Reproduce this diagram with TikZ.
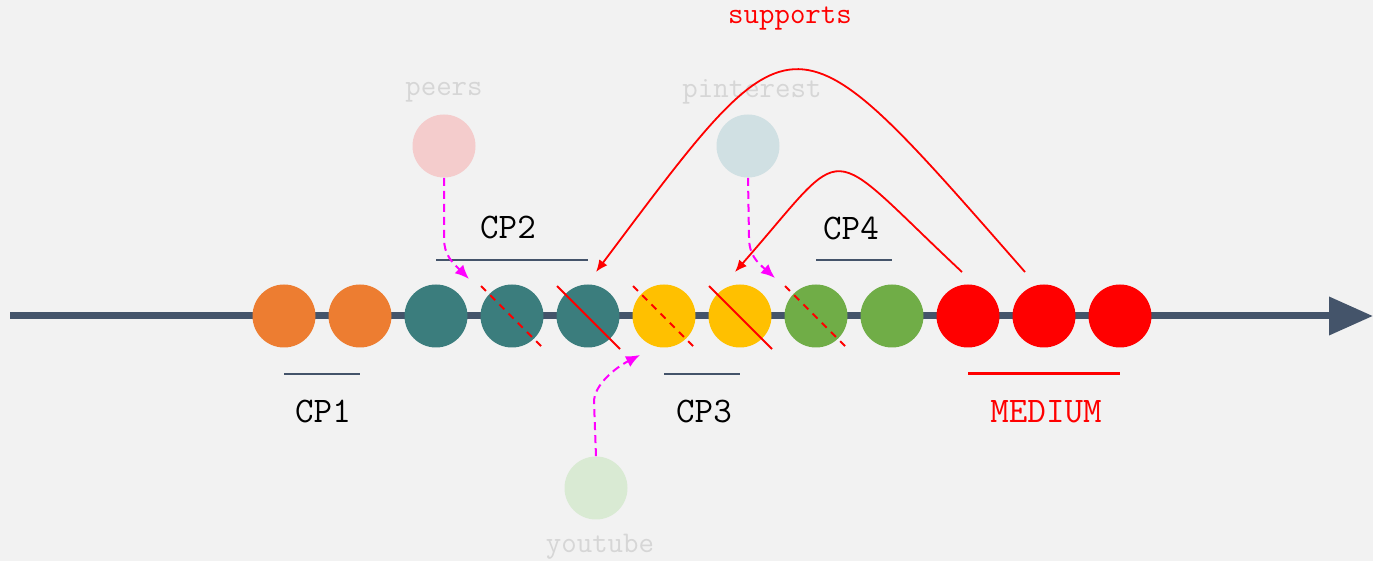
\documentclass[tikz,border=0pt]{standalone}
\usepackage{fontspec}
\usepackage{tikz}
\usetikzlibrary{arrows,arrows.meta,shapes}
\definecolor{bgcolor}{RGB}{242,242,242}
\definecolor{axiscolor}{RGB}{68,84,106}
\definecolor{orangecolor}{RGB}{237,125,49}
\definecolor{tealcolor}{RGB}{59,125,125}
\definecolor{yellowcolor}{RGB}{255,192,0}
\definecolor{greencolor}{RGB}{112,173,71}
\definecolor{peerscolor}{RGB}{244,204,204}
\definecolor{pintcolor}{RGB}{208,224,227}
\definecolor{ytcolor}{RGB}{217,234,211}
\definecolor{faintcolor}{RGB}{214,214,214}
\definecolor{hintcolor}{RGB}{255,0,255}

\begin{document}
\begin{tikzpicture}[x=0.5pt,y=-0.5pt,>={Latex[length=6pt,width=5pt]},node distance=38pt,font=\ttfamily]
 \tikzstyle{bead}=[circle,minimum size=31.5pt,inner sep=0pt]
 \tikzstyle{cplabel}=[inner sep=0pt,font=\fontsize{18}{20}\selectfont\ttfamily]
 \tikzstyle{faintlabel}=[inner sep=0pt,text=faintcolor,font=\fontsize{15}{17}\selectfont\ttfamily]
 \tikzstyle{cpline}=[axiscolor,line width=1pt]
 \tikzstyle{cut}=[red,line width=1pt]
 \tikzstyle{hint}=[->,hintcolor,line width=1pt,dash pattern=on 4pt off 2.5pt,>={Latex[length=7pt,width=6pt]}]

 \fill[bgcolor] (0,0) rectangle (1373,561);
 \useasboundingbox (0,0) rectangle (1373,561);

 % timeline
 \coordinate (axisstart) at (10,316);
 \coordinate (axisend) at (1373,316);
 \draw[axiscolor,line width=3.5pt,-{Triangle[length=22pt,width=18.5pt]}] (axisstart) -- (axisend);

   \node[bead,fill=orangecolor] (o1) at (284,316) {};
   \node[bead,fill=orangecolor] (o2) [right of = o1] {};
   \node[bead,fill=tealcolor] (t1) [right of = o2] {};
   \node[bead,fill=tealcolor] (t2) [right of = t1] {};
   \node[bead,fill=tealcolor] (t3) [right of = t2] {};
   \node[bead,fill=yellowcolor] (y1) [right of = t3] {};
   \node[bead,fill=yellowcolor] (y2) [right of = y1] {};
   \node[bead,fill=greencolor] (g1) [right of = y2] {};
   \node[bead,fill=greencolor] (g2) [right of = g1] {};
   \node[bead,fill=red] (r1) [right of = g2] {};
   \node[bead,fill=red] (r2) [right of = r1] {};
   \node[bead,fill=red] (r3) [right of = r2] {};

 % cuts
 \draw[cut,dash pattern=on 3.5pt off 3pt] ([shift={(-31,-30)}]t2.center) -- ([shift={(32,33)}]t2.center);
 \draw[cut] ([shift={(-31,-30)}]t3.center) -- ([shift={(32,33)}]t3.center);
 \draw[cut,dash pattern=on 3.5pt off 3pt] ([shift={(-31,-30)}]y1.center) -- ([shift={(32,33)}]y1.center);
 \draw[cut] ([shift={(-31,-30)}]y2.center) -- ([shift={(32,33)}]y2.center);
 \draw[cut,dash pattern=on 3.5pt off 3pt] ([shift={(-31,-30)}]g1.center) -- ([shift={(32,33)}]g1.center);

 % checkpoints
 \draw[cpline] ([shift={(0,58)}]o1.center) -- ([shift={(0,58)}]o2.center);
 \draw[cpline] ([shift={(0,-56)}]t1.center) -- ([shift={(0,-56)}]t3.center);
 \draw[cpline] ([shift={(0,58)}]y1.center) -- ([shift={(0,58)}]y2.center);
 \draw[cpline] ([shift={(0,-56)}]g1.center) -- ([shift={(0,-56)}]g2.center);
 \draw[red,line width=1.5pt] ([shift={(0,58)}]r1.center) -- ([shift={(0,58)}]r3.center);

   \node[cplabel] (cp1) at (323,412) {CP1};
   \node[cplabel] (cp2) at (508,228) {CP2};
   \node[cplabel] (cp3) at (704,412) {CP3};
   \node[cplabel] (cp4) at (851,228) {CP4};
   \node[cplabel,text=red] (medium) at (1046,412) {MEDIUM};

 % sources
   \node[bead,fill=peerscolor] (peers) at (444,146) {};
   \node[faintlabel,node distance=27pt] (peerslbl) [above of = peers] {peers};
   \node[bead,fill=pintcolor] (pinterest) at (748,146) {};
   \node[faintlabel,node distance=27pt,xshift=2pt] (pinterestlbl) [above of = pinterest] {pinterest};
   \node[bead,fill=ytcolor] (youtube) at (596,488) {};
   \node[faintlabel,node distance=29.5pt,xshift=2pt] (youtubelbl) [below of = youtube] {youtube};

 \coordinate (peersend) at (469,279);
 \coordinate (pinterestend) at (775,278);
 \coordinate (youtubeend) at (640,355);
 \draw[hint] (peers.south) -- (444,238) .. controls (444,255) and (452,262) .. (peersend);
 \draw[hint] (pinterest.south) -- (749,237) .. controls (749,255) and (757,262) .. (pinterestend);
 \draw[hint] (youtube.north) -- (594,402) .. controls (594,385) and (615,368) .. (youtubeend);

 % supports
   \node[faintlabel,text=red] (supports) at (790,19) {supports};
 \coordinate (bigfrom) at (1025,272);
 \coordinate (bigto) at (596,272);
 \coordinate (smallfrom) at (962,272);
 \coordinate (smallto) at (735,272);
 \draw[->,red,line width=0.9pt] (bigfrom) .. controls (789,3) and (798,3) .. (bigto);
 \draw[->,red,line width=0.9pt] (smallfrom) .. controls (820,139) and (852,139) .. (smallto);

\end{tikzpicture}
\end{document}
